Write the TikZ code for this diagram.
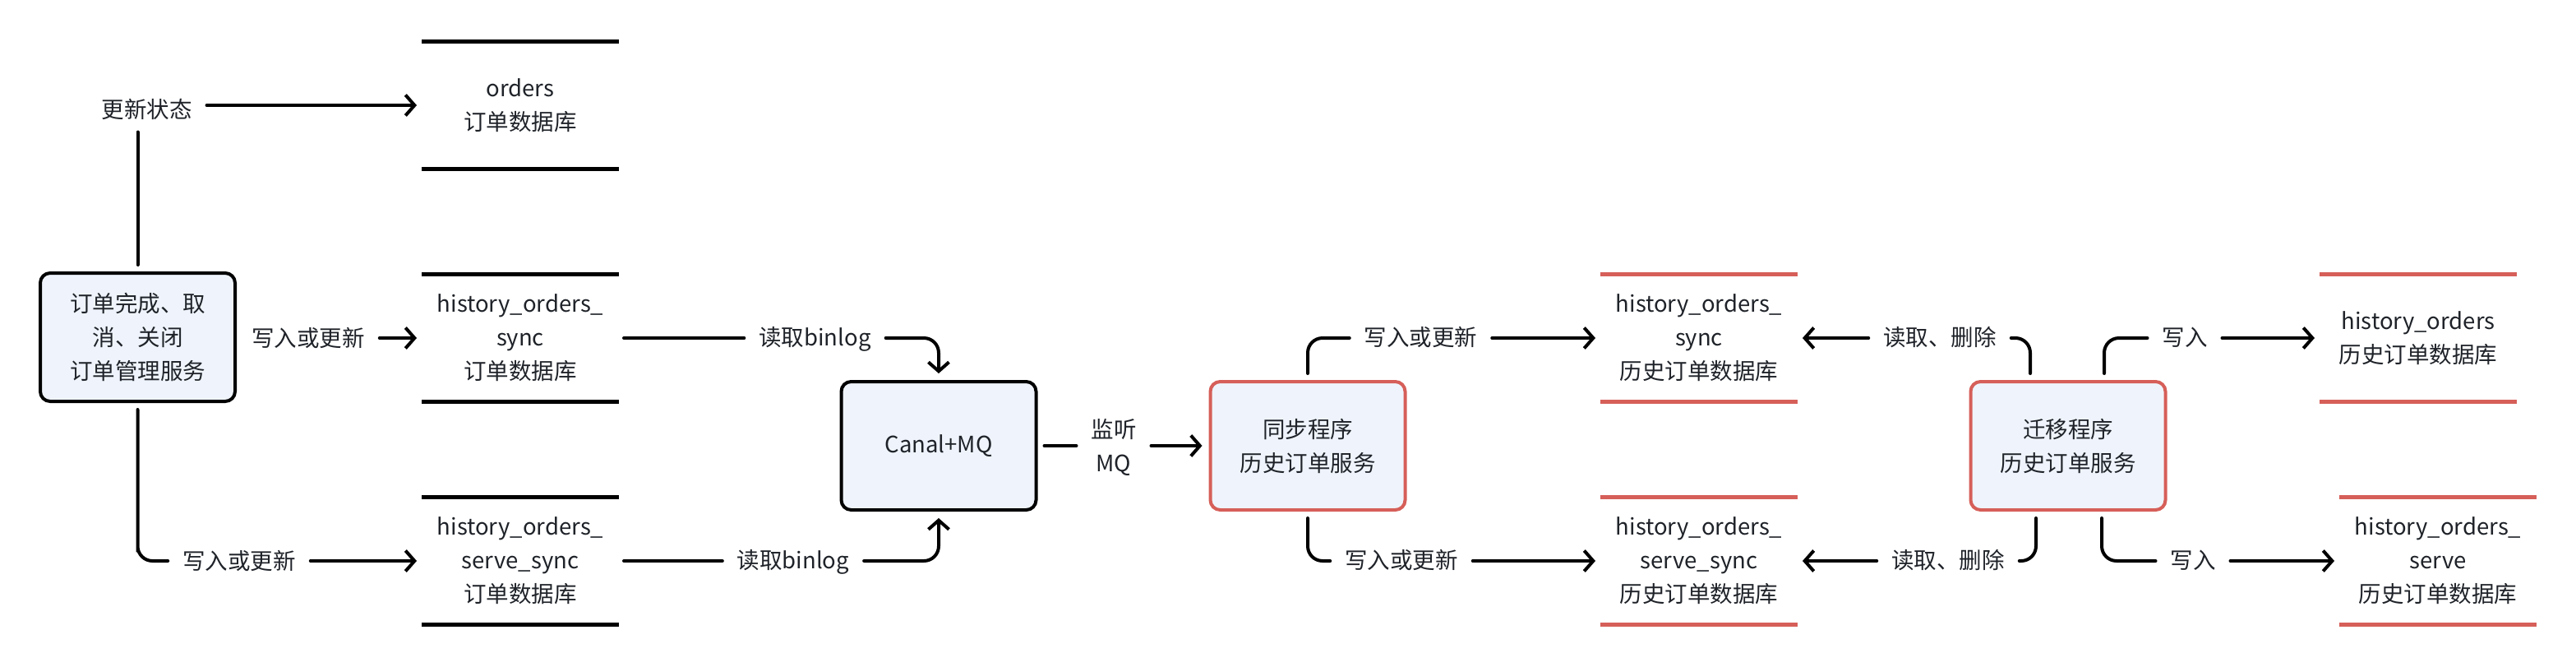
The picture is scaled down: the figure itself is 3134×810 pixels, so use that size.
\documentclass[tikz,border=0pt]{standalone}
\usepackage{fontspec}
\setmainfont{Noto Sans CJK SC}
\usetikzlibrary{arrows.meta}
\definecolor{txt}{HTML}{1F2329}
\definecolor{boxfill}{HTML}{EFF4FC}
\definecolor{redl}{HTML}{D65F59}
\begin{document}
\begin{tikzpicture}[x=0.5pt,y=-0.5pt,
  every node/.style={text=txt, align=center, font=\fontsize{13.75pt}{20.5pt}\selectfont},
  procbox/.style={draw, line width=2pt, fill=boxfill, rounded corners=6pt,
    minimum width=118.5pt, minimum height=78pt, inner sep=0pt, outer sep=5pt},
  redbox/.style={procbox, draw=redl},
  dbnode/.style={minimum width=120pt, minimum height=77.5pt, inner sep=0pt, outer sep=3pt},
  lbl/.style={inner xsep=9pt, inner ysep=7pt, outer sep=0pt, text height=11pt, text depth=1.5pt},
  conn/.style={line width=2pt, line cap=round, rounded corners=9pt},
  arr/.style={conn, -{Straight Barb[length=5.5pt,width=12.5pt]}}]
\useasboundingbox (0,0) rectangle (3134,810);

% processes
\node[procbox] (A) at (167.5,410) {订单完成、取\\消、关闭\\订单管理服务};
\node[procbox] (canal) at (1142,542) {Canal+MQ};
\node[redbox] (sync) at (1591,542) {同步程序\\历史订单服务};
\node[redbox] (mig) at (2516,542) {迁移程序\\历史订单服务};

% data stores
\node[dbnode] (orders) at (633,128) {orders\\订单数据库};
\node[dbnode] (hos) at (633,411) {history\_orders\_\\sync\\订单数据库};
\node[dbnode] (hoss) at (633,682) {history\_orders\_\\serve\_sync\\订单数据库};
\node[dbnode] (hhs) at (2067,411) {history\_orders\_\\sync\\历史订单数据库};
\node[dbnode] (ho) at (2942,411) {history\_orders\\历史订单数据库};
\node[dbnode] (hhss) at (2067,682) {history\_orders\_\\serve\_sync\\历史订单数据库};
\node[dbnode] (hose) at (2966,682) {history\_orders\_\\serve\\历史订单数据库};

\foreach \n/\c in {orders/black,hos/black,hoss/black,hhs/redl,ho/redl,hhss/redl,hose/redl}{
  \draw[\c, line width=2.5pt]
    ([shift={(3pt,-3pt)}]\n.north west) -- ([shift={(-3pt,-3pt)}]\n.north east)
    ([shift={(3pt,3pt)}]\n.south west) -- ([shift={(-3pt,3pt)}]\n.south east);
}

% labels
\node[lbl] (L1) at (178.5,134) {更新状态};
\node[lbl] (L2) at (375,412) {写入或更新};
\node[lbl] (L3) at (291,683) {写入或更新};
\node[lbl] (L4) at (991.5,411) {读取binlog};
\node[lbl] (L5) at (965,682) {读取binlog};
\node[inner xsep=9pt, outer sep=0pt] (L6) at (1355,544) {监听\\MQ};
\node[lbl] (L7) at (1728.5,411) {写入或更新};
\node[lbl] (L8) at (1705,682) {写入或更新};
\node[lbl] (L9) at (2360,411) {读取、删除};
\node[lbl] (L10) at (2658,411) {写入};
\node[lbl] (L11) at (2370,682) {读取、删除};
\node[lbl] (L12) at (2668,682) {写入};

% connectors
\draw[conn] (A.north) -- (A.north |- L1.south);
\draw[arr] (L1.east |- orders.west) -- (orders.west);
\draw[arr] (L2.east |- hos.west) -- (hos.west);
\draw[conn] (A.south) |- (A.south |- hoss.west) -- (L3.west |- hoss.west);
\draw[arr] (L3.east |- hoss.west) -- (hoss.west);

\draw[conn] (hos.east) -- (L4.west);
\draw[arr] (L4.east) -| (canal.north);
\draw[conn] (hoss.east) -- (L5.west);
\draw[arr] (L5.east) -| (canal.south);

\draw[conn] (canal.east) -- (canal.east -| L6.west);
\draw[arr] (canal.east -| L6.east) -- (sync.west);

\draw[conn] (sync.north) |- (L7.west);
\draw[arr] (L7.east) -- (hhs.west);
\draw[conn] (sync.south) |- (L8.west);
\draw[arr] (L8.east) -- (hhss.west);

\draw[conn] ([xshift=-23pt]mig.north) |- (L9.east);
\draw[arr] (L9.west) -- (hhs.east);
\draw[conn] ([xshift=22pt]mig.north) |- (L10.west);
\draw[arr] (L10.east) -- (ho.west);
\draw[conn] ([xshift=-19.5pt]mig.south) |- (L11.east);
\draw[arr] (L11.west) -- (hhss.east);
\draw[conn] ([xshift=20.5pt]mig.south) |- (L12.west);
\draw[arr] (L12.east) -- (hose.west);
\end{tikzpicture}
\end{document}
